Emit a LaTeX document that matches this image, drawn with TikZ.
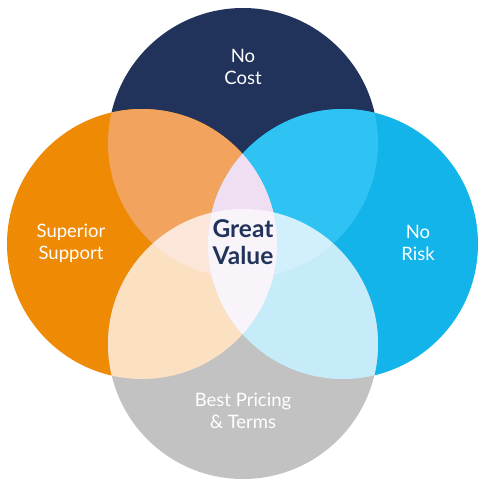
\documentclass[tikz,border=0pt]{standalone}
\usepackage{fontspec}
\setmainfont{Lato}
\definecolor{navy}{HTML}{22335B}
\definecolor{orng}{HTML}{EF8A05}
\definecolor{blu}{HTML}{12B4EA}
\definecolor{gry}{HTML}{C2C2C2}
\definecolor{TL}{HTML}{F2A45E}
\definecolor{TR}{HTML}{2EC3F3}
\definecolor{BL}{HTML}{FCE0C2}
\definecolor{BR}{HTML}{C6ECFA}
\definecolor{TBL}{HTML}{FCE6DA}
\definecolor{TBR}{HTML}{D2F0FB}
\definecolor{LRT}{HTML}{F0DFF3}
\definecolor{ctr}{HTML}{F8F4FA}
\begin{document}
\begin{tikzpicture}[x=1pt,y=-1pt,
  lbl/.style={text=white,align=center,font=\fontsize{18.5}{22}\selectfont},
  ctrlbl/.style={text=navy,align=center,font=\bfseries\fontsize{24.5}{27}\selectfont}]
\useasboundingbox (0,0) rectangle (477,482);
\def\rr{135}
\def\Tc{(243,143) circle[radius=\rr]}
\def\Lc{(142,244) circle[radius=\rr]}
\def\Rc{(343,244) circle[radius=\rr]}
\def\Bc{(243,344) circle[radius=\rr]}
% base circles
\fill[navy] \Tc;
\fill[orng] \Lc;
\fill[blu] \Rc;
\fill[gry] \Bc;
% pairwise overlaps
\begin{scope}\clip \Tc; \fill[TL] \Lc; \end{scope}
\begin{scope}\clip \Tc; \fill[TR] \Rc; \end{scope}
\begin{scope}\clip \Bc; \fill[BL] \Lc; \end{scope}
\begin{scope}\clip \Bc; \fill[BR] \Rc; \end{scope}
% triple overlaps
\begin{scope}\clip \Tc; \clip \Bc; \fill[TBL] \Lc; \end{scope}
\begin{scope}\clip \Tc; \clip \Bc; \fill[TBR] \Rc; \end{scope}
% centre lens
\begin{scope}\clip \Lc; \fill[ctr] \Rc; \end{scope}
\begin{scope}\clip \Lc; \clip \Rc; \fill[LRT] \Tc; \end{scope}
\begin{scope}\clip \Lc; \clip \Rc; \fill[ctr] \Bc; \end{scope}
% labels
\node[lbl] (cost) at (243,67) {No\\Cost};
\node[lbl] (supp) at (71,243) {Superior\\Support};
\node[lbl] (risk) at (418,243) {No\\Risk};
\node[lbl] (pric) at (243,411) {Best Pricing\\\& Terms};
\node[ctrlbl] (val) at (243,242) {Great\\Value};
\end{tikzpicture}
\end{document}
